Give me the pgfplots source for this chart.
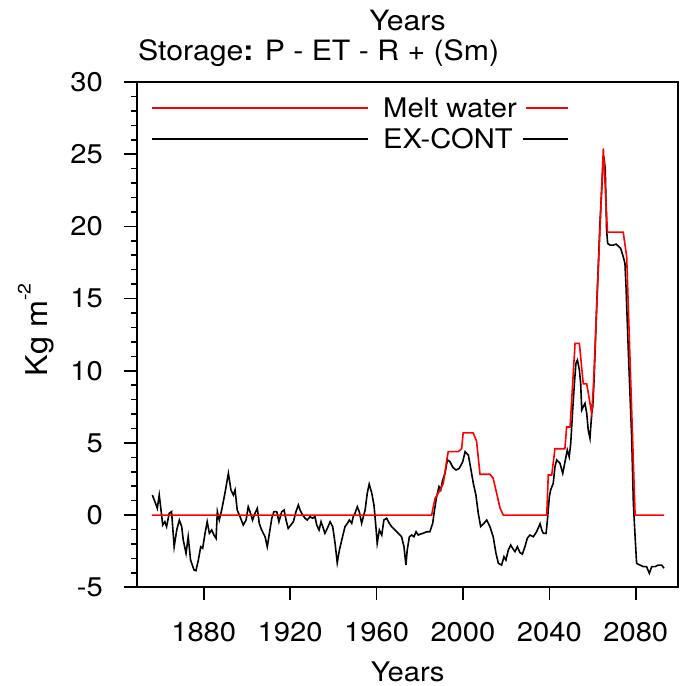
\documentclass[border=0pt]{standalone}
\usepackage{fontspec}
\setmainfont[FakeStretch=1.08]{TeX Gyre Heros}
\usepackage{pgfplots}
\usepackage{pgfplotstable}
\pgfplotsset{compat=1.18}

% Melt water contribution (step-like series)
\pgfplotstableread{
year val
1856.0 0
1985.5 0
1986.3 0.60
1987.1 1.16
1989.4 1.74
1990.9 2.20
1992.5 3.80
1993.2 4.40
1997.9 4.40
1999.4 4.60
2000.1 5.70
2004.7 5.70
2006.3 5.13
2007.9 2.83
2012.5 2.83
2014.0 2.55
2017.2 0.47
2018.7 0
2038.8 0
2039.5 2.78
2041.1 2.78
2042.6 4.60
2047.2 4.60
2048.0 6.10
2049.6 6.10
2051.9 11.90
2053.9 11.90
2055.7 9.10
2057.3 9.10
2059.6 7.05
2060.4 8.90
2065.0 25.40
2066.9 19.60
2074.2 19.60
2075.8 17.90
2079.7 0
2093.1 0
}\meltwater

% EX-CONT storage anomaly
\pgfplotstableread{
year val
1856.2 1.39
1857.4 0.93
1858.5 0.47
1859.4 1.39
1860.5 0.00
1861.0 -0.69
1862.0 -0.46
1862.8 -0.80
1864.0 0.12
1865.1 0.24
1866.3 -2.19
1867.5 -1.03
1868.7 -0.34
1869.8 -0.80
1870.5 -1.72
1871.8 -2.65
1872.8 -1.50
1873.9 -3.11
1875.5 -3.80
1876.4 -3.85
1877.5 -3.11
1878.6 -2.19
1879.5 -2.30
1880.6 -1.26
1881.6 -0.46
1882.6 -1.26
1883.7 -1.03
1884.7 -1.38
1885.7 -1.61
1886.3 0.24
1887.2 -0.34
1888.3 0.35
1889.8 1.51
1891.4 2.89
1892.6 1.74
1893.7 1.39
1894.5 1.74
1895.5 0.35
1896.8 -0.11
1898.3 -0.69
1899.6 -0.34
1900.6 0.58
1901.4 0.24
1902.6 -0.34
1903.7 0.12
1904.8 0.47
1905.7 -0.57
1906.8 -1.03
1908.4 -1.50
1909.4 -2.19
1910.4 -1.26
1911.5 -0.22
1912.5 0.24
1913.8 0.24
1914.8 -0.46
1916.1 0.24
1917.2 0.35
1918.1 -0.34
1919.1 -0.92
1920.3 -0.69
1921.5 -0.46
1922.7 0.24
1923.8 0.70
1924.6 0.35
1925.8 0.00
1926.9 -0.22
1927.9 -0.34
1929.2 -0.11
1930.4 -0.22
1931.5 -0.11
1932.3 -0.69
1933.4 -1.03
1934.3 -0.46
1935.1 -0.80
1936.1 -1.26
1937.2 -0.92
1938.5 -0.46
1939.7 -0.80
1940.8 -1.95
1941.8 -3.30
1942.8 -2.42
1943.9 -1.72
1945.4 -0.80
1946.5 -0.57
1947.4 -0.34
1948.5 -0.57
1949.2 -0.11
1950.0 0.12
1951.1 0.58
1952.0 0.24
1953.1 -0.57
1953.9 -0.11
1954.7 0.35
1955.7 1.51
1956.6 2.15
1957.8 1.51
1958.8 0.70
1959.7 -0.80
1960.3 -1.95
1961.3 -1.03
1962.4 -1.38
1963.4 -0.34
1964.7 -0.22
1965.9 -0.57
1967.0 -0.80
1968.5 -1.03
1970.1 -1.26
1971.6 -1.50
1972.7 -2.19
1973.6 -3.46
1974.2 -2.42
1975.2 -1.50
1976.3 -1.38
1977.3 -1.50
1978.3 -1.15
1979.3 -1.38
1980.4 -1.31
1981.6 -1.26
1983.2 -1.15
1984.7 -1.15
1986.0 -0.57
1986.6 0.12
1987.8 1.27
1988.9 1.97
1989.7 1.74
1990.6 2.43
1991.7 2.89
1992.8 3.82
1994.0 3.70
1995.3 3.31
1996.8 3.12
1998.3 3.24
1999.9 3.70
2001.0 4.39
2002.5 4.16
2003.6 3.24
2004.8 2.20
2006.0 1.39
2007.1 0.12
2008.2 -0.80
2009.7 -0.57
2011.0 -0.34
2012.5 -0.80
2014.0 -1.50
2015.3 -2.65
2016.4 -3.34
2017.9 -3.46
2019.0 -2.88
2019.9 -3.11
2021.0 -2.42
2022.1 -2.07
2023.0 -2.30
2024.1 -2.53
2025.2 -2.19
2026.4 -2.60
2027.5 -2.70
2028.7 -2.19
2029.8 -1.60
2031.0 -1.38
2032.6 -1.50
2034.1 -1.15
2035.7 -0.60
2036.5 -1.03
2037.2 -1.26
2038.5 -1.26
2039.1 -0.34
2040.0 1.27
2040.6 1.74
2041.8 2.20
2042.6 3.35
2043.4 3.82
2044.9 3.59
2046.2 2.89
2046.8 3.35
2047.7 4.04
2048.3 4.51
2049.2 4.04
2049.9 4.97
2050.8 7.28
2051.6 9.13
2052.3 10.51
2053.0 10.74
2053.9 10.05
2054.5 9.13
2055.0 7.28
2055.7 7.51
2056.5 7.74
2057.3 7.05
2058.0 5.89
2058.8 5.32
2059.6 7.05
2060.1 7.51
2060.7 9.36
2061.9 14.43
2063.5 20.44
2064.7 23.90
2065.3 24.82
2065.9 23.90
2066.5 19.74
2067.0 18.82
2068.1 18.70
2069.6 18.70
2070.9 18.77
2071.9 18.64
2073.0 18.48
2074.2 17.90
2075.0 17.44
2075.5 15.82
2076.6 11.20
2078.1 5.43
2078.9 0.82
2079.7 -1.50
2080.4 -3.34
2082.0 -3.46
2083.5 -3.57
2085.0 -3.57
2086.3 -4.03
2087.4 -3.57
2088.9 -3.57
2090.4 -3.46
2092.0 -3.46
2093.1 -3.68
}\excont

\definecolor{meltred}{RGB}{255,0,0}

\begin{document}
\begin{tikzpicture}
\path[use as bounding box] (0,0) rectangle (680pt,686pt);
\begin{axis}[
  at={(137pt,98.7pt)}, anchor=south west,
  scale only axis, width=541.3pt, height=505.3pt,
  xmin=1849.1, xmax=2099.7, ymin=-5, ymax=30,
  xtick={1880,1920,...,2080}, ytick={-5,0,...,30},
  minor y tick num=4,
  tick pos=left, tick align=outside,
  major tick length=12.5pt, minor tick length=6pt,
  tick style={black, line width=1.6pt},
  axis line style={line width=1.8pt},
  /pgf/number format/assume math mode=true,
  /pgf/number format/1000 sep={},
  ticklabel style={font=\fontsize{27}{30}\selectfont, inner sep=0pt},
  xticklabel style={anchor=base, yshift=-41.2pt},
  yticklabel style={anchor=east, xshift=-21.5pt},
  clip=false,
]
\addplot[black, line width=1.6pt] table[x=year, y=val] {\excont};
\addplot[meltred, line width=1.6pt] table[x=year, y=val] {\meltwater};

% legend: sample line, label, short sample line
\draw[color=meltred, line width=1.8pt] (rel axis cs:0.0277,0.9491) -- (rel axis cs:0.4268,0.9491);
\draw[color=meltred, line width=1.8pt] (rel axis cs:0.7187,0.9491) -- (rel axis cs:0.7962,0.9491);
\draw[color=black, line width=1.8pt] (rel axis cs:0.0277,0.8878) -- (rel axis cs:0.4268,0.8878);
\draw[color=black, line width=1.8pt] (rel axis cs:0.7131,0.8878) -- (rel axis cs:0.7962,0.8878);
\node[anchor=west, inner sep=0pt, font=\fontsize{27}{30}\selectfont] at (rel axis cs:0.4545,0.9491) {Melt water};
\node[anchor=west, inner sep=0pt, font=\fontsize{27}{30}\selectfont] at (rel axis cs:0.4545,0.8878) {EX-CONT};
\end{axis}

% titles
\node[anchor=base, inner sep=0pt, font=\fontsize{28}{30}\selectfont] at (407.6pt,655.3pt) {Years};
\node[anchor=base west, inner sep=0pt, font=\fontsize{28}{30}\selectfont] at (138pt,625.3pt) {Storage\textbf{:} P - ET - R + (Sm)};
% axis labels
\node[anchor=base, inner sep=0pt, font=\fontsize{27}{30}\selectfont] at (407.6pt,4.5pt) {Years};
\node[rotate=90, anchor=base, inner sep=0pt, font=\fontsize{30}{32}\selectfont] at (47pt,356pt) {Kg m\raisebox{0.55em}{\fontsize{18}{18}\selectfont -2}};
\end{tikzpicture}
\end{document}
